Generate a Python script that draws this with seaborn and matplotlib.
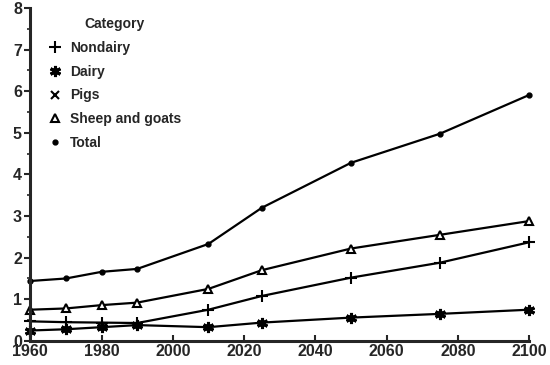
import pandas as pd
import matplotlib
matplotlib.use("Agg")
import matplotlib.pyplot as plt
import seaborn as sns
from matplotlib.lines import Line2D

years = [1960, 1970, 1980, 1990, 2010, 2025, 2050, 2075, 2100]

nondairy = [0.47, 0.45, 0.44, 0.43, 0.75, 1.08, 1.52, 1.88, 2.37]
dairy = [0.25, 0.28, 0.33, 0.38, 0.33, 0.44, 0.56, 0.65, 0.75]
sheep_goats = [0.75, 0.78, 0.86, 0.92, 1.25, 1.70, 2.22, 2.55, 2.88]
total = [1.44, 1.50, 1.66, 1.73, 2.33, 3.20, 4.28, 4.98, 5.91]

categories = ["Nondairy", "Dairy", "Pigs", "Sheep and goats", "Total"]

series = {
    "Nondairy": nondairy,
    "Dairy": dairy,
    "Sheep and goats": sheep_goats,
    "Total": total,
}

rows = []
for name, vals in series.items():
    for yr, v in zip(years, vals):
        rows.append({"Year": yr, "Value": v, "Category": name})
df = pd.DataFrame(rows)

sns.set_style("ticks")
plt.rcParams["font.family"] = ["Liberation Sans", "DejaVu Sans"]

marker_style = {
    "Nondairy": dict(marker="+", ms=8, mew=1.5, mfc="none"),
    "Dairy": dict(marker=(6, 2, 0), ms=8, mew=2.2, mfc="none"),
    "Pigs": dict(marker="x", ms=6, mew=1.5, mfc="none"),
    "Sheep and goats": dict(marker="^", ms=6, mew=1.5, mfc="white"),
    "Total": dict(marker="o", ms=3.5, mew=1.0, mfc="black"),
}

fig = plt.figure(figsize=(5.5, 3.65), dpi=100)
ax = fig.add_axes([0.055, 0.066, 0.907, 0.912])

for name in series:
    sub = df[df["Category"] == name]
    sns.lineplot(
        data=sub,
        x="Year",
        y="Value",
        color="black",
        linewidth=1.6,
        ax=ax,
        legend=False,
        mec="black",
        clip_on=False,
        **marker_style[name]
    )

handles = [
    Line2D([], [], linestyle="none", color="black", mec="black", **marker_style[c])
    for c in categories
]
leg = ax.legend(
    handles,
    categories,
    title="Category",
    loc="upper left",
    bbox_to_anchor=(0.01, 1.01),
    frameon=False,
    handlelength=1.0,
    handletextpad=0.6,
    labelspacing=0.7,
    prop={"size": 10, "weight": "bold"},
    title_fontproperties={"size": 10, "weight": "bold"},
)

ax.set_xlim(1960, 2100)
ax.set_ylim(0, 8)
ax.set_xticks(range(1960, 2101, 20))
ax.set_yticks(range(0, 9))
ax.set_yticks([i + 0.5 for i in range(8)], minor=True)
ax.set_xlabel("")
ax.set_ylabel("")

for s in ["top", "right"]:
    ax.spines[s].set_visible(False)
for s in ["left", "bottom"]:
    ax.spines[s].set_linewidth(2.2)

ax.tick_params(axis="y", direction="out", length=4, width=1.5, labelsize=11.5, pad=2)
ax.tick_params(axis="y", which="minor", direction="out", length=2, width=1.2)
ax.tick_params(axis="x", direction="in", length=4, width=1.5, labelsize=11.5, pad=2)
for lab in ax.get_xticklabels() + ax.get_yticklabels():
    lab.set_fontweight("bold")

fig.savefig("out.png", dpi=100)
